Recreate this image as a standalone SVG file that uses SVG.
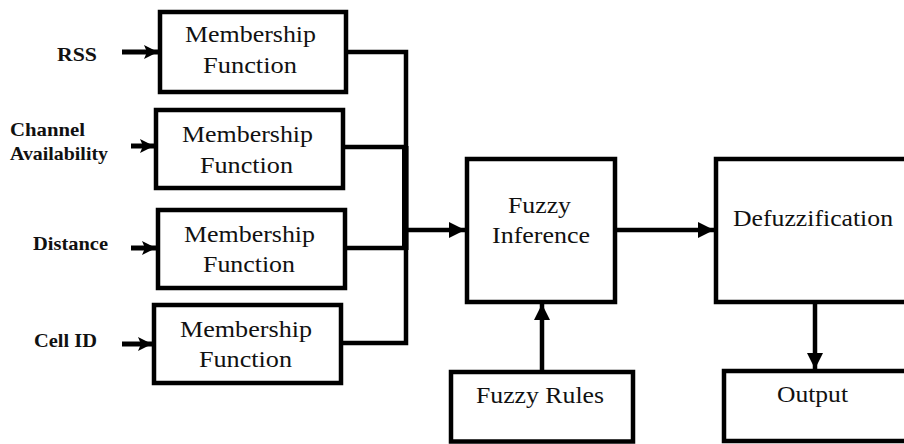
<svg xmlns="http://www.w3.org/2000/svg" width="904" height="444" viewBox="0 0 904 444">
  <style>
    .box { fill: #ffffff; stroke: #000000; stroke-width: 4.5; }
    .lbl { font-family: "Liberation Serif", "DejaVu Serif", serif; font-size: 24px; fill: #111111; }
    .in { font-family: "Liberation Serif", "DejaVu Serif", serif; font-size: 19px; font-weight: bold; fill: #111111; }
    .wire { fill: none; stroke: #000000; stroke-width: 4.5; }
    .thin { fill: none; stroke: #000000; stroke-width: 5; }
  </style>
  <defs>
    <marker id="ah" markerUnits="userSpaceOnUse" markerWidth="16" markerHeight="16" refX="16" refY="8" orient="auto">
      <path d="M0,0 L16,8 L0,16 z" fill="#000000"/>
    </marker>
    <marker id="ahs" markerUnits="userSpaceOnUse" markerWidth="14" markerHeight="14" refX="14" refY="7" orient="auto">
      <path d="M0,0 L14,7 L0,14 L3,7 z" fill="#000000"/>
    </marker>
  </defs>
  <rect width="904" height="444" fill="#ffffff"/>

  <g id="connectors">
    <path class="thin" d="M122,52 H158" marker-end="url(#ahs)"/>
    <path class="thin" d="M131,146 H154" marker-end="url(#ahs)"/>
    <path class="thin" d="M131,248 H156" marker-end="url(#ahs)"/>
    <path class="thin" d="M122,344 H152" marker-end="url(#ahs)"/>
    <path class="wire" d="M346,52 H406 V343 H341"/>
    <path class="wire" d="M343,147 H406"/>
    <path class="wire" d="M345,248 H406"/>
    <rect x="402" y="146" width="6.5" height="104" fill="#000000"/>
    <path class="wire" d="M406,230 H465" marker-end="url(#ah)"/>
    <path class="wire" d="M617,230 H714" marker-end="url(#ah)"/>
    <path class="wire" d="M542,370 V304" marker-end="url(#ah)"/>
    <path class="wire" d="M815,304 V369" marker-end="url(#ah)"/>
  </g>

  <g id="input-rss">
    <text class="in" x="57" y="61" textLength="40" lengthAdjust="spacingAndGlyphs">RSS</text>
  </g>
  <g id="input-channel">
    <text class="in" x="10" y="136" textLength="75" lengthAdjust="spacingAndGlyphs">Channel</text>
    <text class="in" x="10" y="160" textLength="98" lengthAdjust="spacingAndGlyphs">Availability</text>
  </g>
  <g id="input-distance">
    <text class="in" x="33" y="250" textLength="75" lengthAdjust="spacingAndGlyphs">Distance</text>
  </g>
  <g id="input-cellid">
    <text class="in" x="34" y="347" textLength="63" lengthAdjust="spacingAndGlyphs">Cell ID</text>
  </g>

  <g id="mf1">
    <rect class="box" x="160" y="12" width="186" height="80"/>
    <text class="lbl" x="185" y="42" textLength="131" lengthAdjust="spacingAndGlyphs">Membership</text>
    <text class="lbl" x="203" y="73" textLength="94" lengthAdjust="spacingAndGlyphs">Function</text>
  </g>
  <g id="mf2">
    <rect class="box" x="156" y="110" width="187" height="78"/>
    <text class="lbl" x="182" y="142" textLength="131" lengthAdjust="spacingAndGlyphs">Membership</text>
    <text class="lbl" x="200" y="173" textLength="93" lengthAdjust="spacingAndGlyphs">Function</text>
  </g>
  <g id="mf3">
    <rect class="box" x="158" y="210" width="187" height="78"/>
    <text class="lbl" x="184" y="242" textLength="131" lengthAdjust="spacingAndGlyphs">Membership</text>
    <text class="lbl" x="203" y="272" textLength="92" lengthAdjust="spacingAndGlyphs">Function</text>
  </g>
  <g id="mf4">
    <rect class="box" x="154" y="305" width="187" height="78"/>
    <text class="lbl" x="180" y="337" textLength="132" lengthAdjust="spacingAndGlyphs">Membership</text>
    <text class="lbl" x="199" y="367" textLength="93" lengthAdjust="spacingAndGlyphs">Function</text>
  </g>

  <g id="fuzzy-inference">
    <rect class="box" x="467" y="159" width="148" height="143"/>
    <text class="lbl" x="508" y="213" textLength="63" lengthAdjust="spacingAndGlyphs">Fuzzy</text>
    <text class="lbl" x="492" y="243" textLength="98" lengthAdjust="spacingAndGlyphs">Inference</text>
  </g>
  <g id="defuzzification">
    <rect class="box" x="716" y="159" width="200" height="143"/>
    <text class="lbl" x="733" y="226" textLength="160" lengthAdjust="spacingAndGlyphs">Defuzzification</text>
  </g>
  <g id="fuzzy-rules">
    <rect class="box" x="451" y="372" width="182" height="69.5"/>
    <text class="lbl" x="476" y="403" textLength="128" lengthAdjust="spacingAndGlyphs">Fuzzy Rules</text>
  </g>
  <g id="output">
    <rect class="box" x="724" y="371" width="200" height="70"/>
    <text class="lbl" x="777" y="402" textLength="71" lengthAdjust="spacingAndGlyphs">Output</text>
  </g>
</svg>
